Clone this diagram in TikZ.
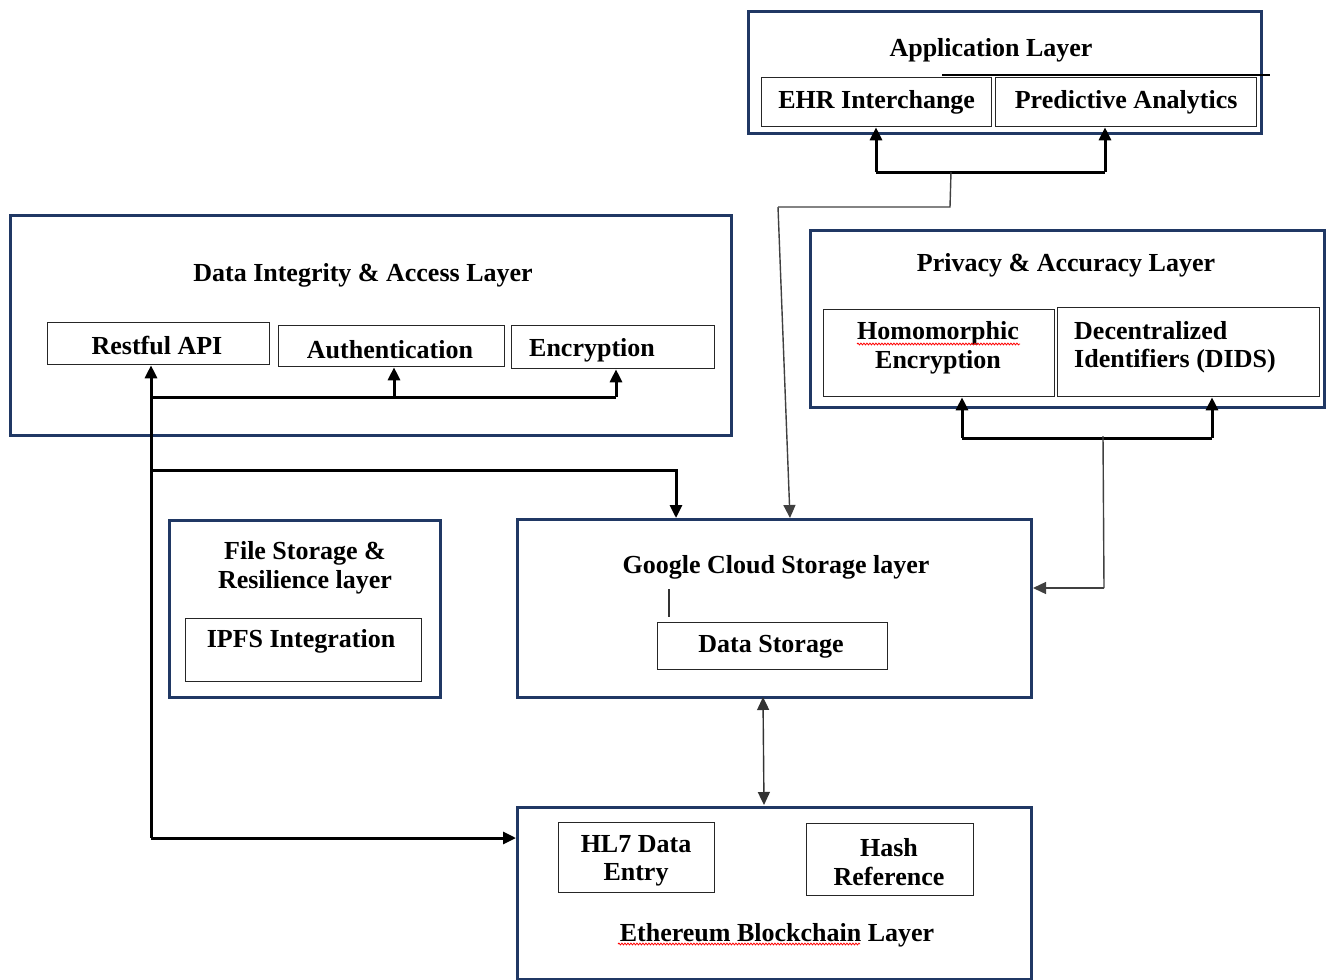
\documentclass[tikz,border=0pt]{standalone}
\usepackage{fontspec}
\setmainfont{Liberation Serif}
\usetikzlibrary{arrows.meta,calc,decorations.pathmorphing}
\definecolor{navy}{HTML}{203864}
\newcommand{\lblfont}{\fontsize{26}{28.5}\selectfont\bfseries}
\tikzset{
  layer/.style={draw=navy, line width=3pt, inner sep=0pt, anchor=north west},
  comp/.style={draw=black!85, line width=1.3pt, inner sep=0pt, anchor=north west, font=\lblfont},
  lbl/.style={font=\lblfont, inner sep=0pt, align=center},
  heavy/.style={line width=3pt, draw=black},
  heavyarrow/.style={line width=3pt, draw=black, -{Triangle[length=13pt,width=12pt]}},
  lightline/.style={line width=1.4pt, draw=black!75},
  lightarrow/.style={line width=1.4pt, draw=black!75, -{Triangle[length=13pt,width=12pt]}},
  lightboth/.style={line width=1.4pt, draw=black!80, {Triangle[length=13pt,width=12pt]}-{Triangle[length=13pt,width=12pt]}},
  squiggle/.style={draw=red, line width=0.8pt, decorate, decoration={snake, segment length=3pt, amplitude=0.9pt}},
}
\begin{document}
\begin{tikzpicture}[x=1pt,y=-1pt]
\useasboundingbox (0,0) rectangle (1326,980);

% ---------------- Application layer ----------------
\node[layer, minimum width=513pt, minimum height=122pt] (app) at (747,10) {};
\node[lbl] (appT) at (991,50) {Application Layer};
\coordinate (appL1) at (942,75);
\coordinate (appL2) at (1270,75);
\draw[line width=2pt] (appL1) -- (appL2);
\node[comp, minimum width=230pt, minimum height=49pt] (ehr) at (761,77) {EHR Interchange};
\node[comp, minimum width=261pt, minimum height=49pt] (pred) at (995,77) {Predictive Analytics};
\coordinate (aj1) at (876,172);
\coordinate (aj2) at (1105,172);
\draw[heavy] (aj1) -- (aj2);
\draw[heavyarrow] (aj1) -- (aj1 |- ehr.south);
\draw[heavyarrow] (aj2) -- (aj2 |- pred.south);

% ---------------- Data integrity layer ----------------
\node[layer, minimum width=721pt, minimum height=220pt] (dia) at (9,214) {};
\node[lbl] (diaT) at (363,275) {Data Integrity \& Access Layer};
\node[comp, minimum width=222pt, minimum height=42pt] (rest) at (47,322) {};
\node[lbl] (restT) at (157,346) {Restful API};
\node[comp, minimum width=226pt, minimum height=41pt] (auth) at (278,325) {};
\node[lbl] (authT) at (390,350) {Authentication};
\node[comp, minimum width=203pt, minimum height=43pt] (encr) at (511,325) {};
\node[lbl] (encrT) at (592,350) {Encryption};

% ---------------- Privacy layer ----------------
\node[layer, minimum width=514pt, minimum height=177pt] (priv) at (809,229) {};
\node[lbl] (privT) at (1066,265) {Privacy \& Accuracy Layer};
\node[comp, minimum width=231pt, minimum height=87pt] (homo) at (823,309) {};
\node[lbl] (homoT) at (938,348) {Homomorphic\\Encryption};
\draw[squiggle] (857,344) -- (1020,344);
\node[comp, minimum width=262pt, minimum height=89pt] (did) at (1057,307) {};
\node[lbl, align=left, anchor=west] (didT) at (1074,347) {Decentralized\\Identifiers (DIDS)};

% ---------------- File storage layer ----------------
\node[layer, minimum width=271pt, minimum height=177pt] (file) at (168,519) {};
\node[lbl] (fileT) at (305,568) {File Storage \&\\Resilience layer};
\node[comp, minimum width=236pt, minimum height=63pt] (ipfs) at (185,618) {};
\node[lbl] (ipfsT) at (301,641) {IPFS Integration};

% ---------------- Google cloud layer ----------------
\node[layer, minimum width=514pt, minimum height=178pt] (gcs) at (516,518) {};
\node[lbl] (gcsT) at (776,567) {Google Cloud Storage layer};
\node[comp, minimum width=230pt, minimum height=47pt] (dstore) at (657,622) {};
\node[lbl] (dstoreT) at (771,647) {Data Storage};
\coordinate (gt1) at (669,589);
\coordinate (gt2) at (669,617);
\draw[line width=1.2pt, draw=black!80] (gt1) -- (gt2);

% ---------------- Ethereum layer ----------------
\node[layer, minimum width=514pt, minimum height=172pt] (eth) at (516,806) {};
\node[comp, minimum width=156pt, minimum height=70pt] (hl7) at (558,822) {};
\node[lbl] (hl7T) at (636,861) {HL7 Data\\Entry};
\node[comp, minimum width=167pt, minimum height=72pt] (hash) at (806,823) {};
\node[lbl] (hashT) at (889,862) {Hash\\Reference};
\node[lbl] (ethT) at (777,935) {Ethereum Blockchain Layer};
\draw[squiggle] (618,944) -- (860,944);

% ---------------- Connectors ----------------
% data integrity fan-out
\coordinate (d0) at (151,838);
\coordinate (d1) at (151,397);
\coordinate (d2) at (394,397);
\coordinate (d3) at (616,397);
\coordinate (d4) at (151,470);
\coordinate (d5) at (676,470);
\draw[heavyarrow] (d0) -- (d0 |- rest.south);
\draw[heavy] (d1) -- (d3);
\draw[heavyarrow] (d2) -- (d2 |- auth.south);
\draw[heavyarrow] (d3) -- (d3 |- encr.south);
\draw[heavyarrow] (d4) -- (d5) -- (d5 |- gcs.north);
\draw[heavyarrow] (d0) -- (d0 -| eth.west);

% application layer -> google cloud
\coordinate (a1) at (951,172);
\coordinate (a2) at (950,207);
\coordinate (a3) at (778,207);
\coordinate (a4) at (790,518);
\draw[lightline] (a1) -- (a2) -- (a3);
\draw[lightarrow] (a3) -- (a4);

% privacy layer fan-out and link to google cloud
\coordinate (p1) at (962,438);
\coordinate (p2) at (1212,438);
\draw[heavy] (p1) -- (p2);
\draw[heavyarrow] (p1) -- (p1 |- homo.south);
\draw[heavyarrow] (p2) -- (p2 |- did.south);
\coordinate (p3) at (1103,436);
\coordinate (p4) at (1104,588);
\draw[lightline] (p3) -- (p4);
\draw[lightarrow] (p4) -- (gcs.east |- p4);

% google cloud <-> ethereum
\coordinate (g1) at (763,697);
\coordinate (g2) at (764,805);
\draw[lightboth] (g1) -- (g2);
\end{tikzpicture}
\end{document}
